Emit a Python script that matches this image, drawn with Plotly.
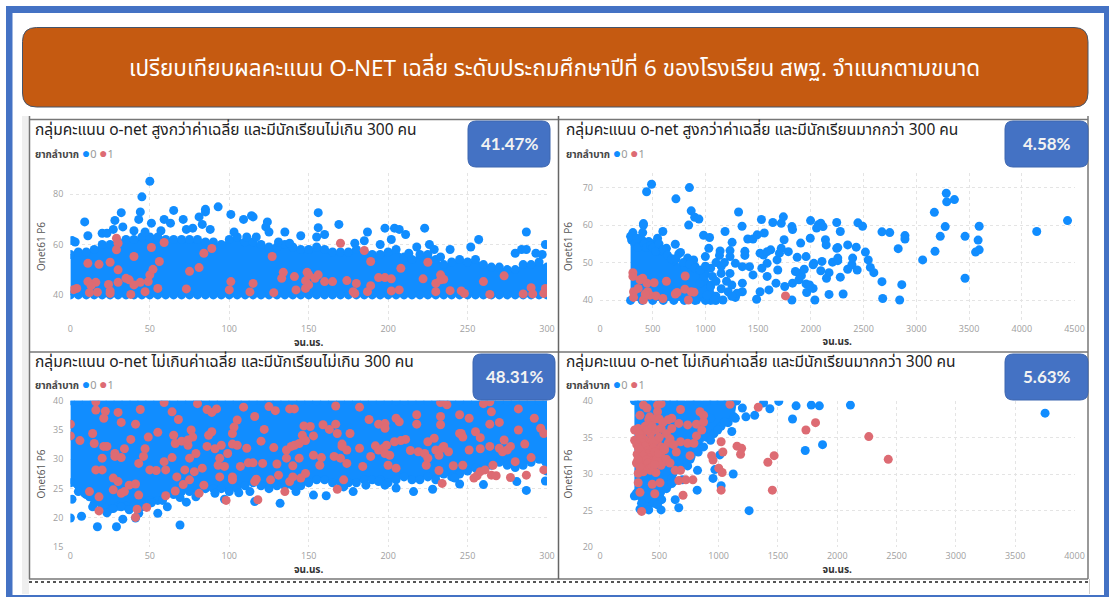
import plotly.graph_objects as go

W, H = 1109, 597
BLUE = "#118DFF"
RED = "#DD6B73"
BADGE = "#4472C4"
HEAD = "#C55A11"
THAI = "'Noto Sans Thai', 'Noto Sans', 'Open Sans', sans-serif"

HEADER = "เปรียบเทียบผลคะแนน O-NET เฉลี่ย ระดับประถมศึกษาปีที่ 6 ของโรงเรียน สพฐ. จำแนกตามขนาด"
TITLES = ["กลุ่มคะแนน o-net สูงกว่าค่าเฉลี่ย และมีนักเรียนไม่เกิน 300 คน",
          "กลุ่มคะแนน o-net สูงกว่าค่าเฉลี่ย และมีนักเรียนมากกว่า 300 คน",
          "กลุ่มคะแนน o-net ไม่เกินค่าเฉลี่ย และมีนักเรียนไม่เกิน 300 คน",
          "กลุ่มคะแนน o-net ไม่เกินค่าเฉลี่ย และมีนักเรียนมากกว่า 300 คน"]
BADGES = ["41.47%", "4.58%", "48.31%", "5.63%"]
LEGEND_NAME = "ยากลำบาก"
X_TITLE = "จน.นร."
Y_TITLE = "Onet61 P6"

# Dense bands of overlapping schools: outline (x, edge of the mass)
P1_MASS_X = [0, 5, 10, 15, 20, 25, 30, 35, 40, 45, 50, 55, 60, 65, 70, 75, 80, 85, 90, 95, 100, 105, 110, 115, 120, 125, 130, 135, 140, 145, 150, 155, 160, 165, 170, 175, 180, 185, 190, 195, 200, 205, 210, 215, 220, 225, 230, 235, 240, 245, 250, 255, 260, 265, 270, 275, 280, 285, 290, 295, 300]
P1_MASS_TOP = [56, 57, 57, 58, 60, 60, 61, 62, 62, 63, 63, 63, 62, 62, 62, 62, 62, 61, 61, 60, 62, 63, 61, 61, 60, 59, 59, 60, 59, 58, 58, 59, 58, 57, 57, 57, 58, 57, 56, 56, 57, 58, 55, 54, 56, 56, 54, 52, 53, 54, 53, 54, 52, 51, 51, 50, 50, 52, 52, 53, 51]
P2_MASS_X = [290, 400, 500, 600, 700, 800, 900, 1000, 1050, 1100]
P2_MASS_TOP = [57, 56, 55, 53, 50.5, 49, 49, 47, 44, 41]
P3_MASS_X = [0, 5, 10, 15, 20, 25, 30, 35, 40, 45, 50, 55, 60, 65, 70, 75, 80, 85, 90, 95, 100, 105, 110, 115, 120, 125, 130, 135, 140, 145, 150, 155, 160, 165, 170, 175, 180, 185, 190, 195, 200, 205, 210, 215, 220, 225, 230, 235, 240, 245, 250, 255, 260, 265, 270, 275, 280, 285, 290, 295, 300]
P3_MASS_BOTTOM = [26, 24.5, 24, 22.5, 22, 21.5, 22, 22, 22, 22.5, 23, 23, 24, 24, 24.5, 24.5, 24.5, 25, 25, 25, 24.5, 25, 25.5, 26, 25.5, 25, 25.5, 25.5, 25.5, 25.5, 26, 26.5, 26.5, 26, 26, 26, 26, 26.5, 26.5, 26.5, 26, 26.5, 27, 26.5, 26.5, 27, 26.5, 27.5, 27, 27.5, 28, 28.5, 28.5, 29, 29.5, 29, 29, 29, 29.5, 30, 28]
P4_MASS_X = [290, 350, 400, 450, 520, 560, 620, 680, 760, 820, 900, 960, 1020, 1080, 1130, 1150]
P4_MASS_BOTTOM = [27, 26, 25.5, 26, 26.5, 28, 29, 31, 32, 33.5, 35, 35.5, 36.5, 37, 37.8, 40]

P1_BLUE = [(50,85.2),(45,79),(44,73),(32,72.7),(9,69),(28,69.6),(43,70),(51,68.5),(33,67),(65,73.6),(59,70),(63,68.5),(71,70),(81,71),(85,74),(85,73),(93,75),(101,72),(109,70),(114,71.5),(115,71),(124,69),(123,67),(125,65),(135,65),(145,63.5),(156,72.7),(156,66.7),(169,68),(160,64),(155,63),(187,65),(198,66.5),(204,66.5),(207,66),(211,64),(202,62),(223,66.5),(257,62),(252,59),(287,65),(299,60),(239,58),(280,56.5),(284,58),(287,58),(293,56.5),(297,56),(226,60),(218,59),(213,56.5),(195,60),(179,60.5),(185,61.5),(1,61.6),(3,61),(11,63.5),(20,64.5),(23,64.5),(27,66),(40,65.5),(47,65),(57,65.5),(73,66),(77,66.5),(83,68),(88,66),(103,65),(111,63),(117,63),(131,61),(138,60.5),(229,58),(233,55)]
P1_RED = [(2,42),(4,42.5),(11,52.5),(18,52.1),(25,52.9),(11,45.2),(16,44.9),(13,43.6),(12,40.8),(17,41),(24,44.1),(25,41.5),(25,40.5),(29,62.5),(30,60.5),(29,57.9),(30,49.9),(30,44.9),(35,46.5),(37,45.9),(38,40.1),(40,55.2),(40,43.9),(44,44.9),(47,41.2),(49,45.2),(50,47.9),(52,50.1),(51,58.8),(56,53.2),(55,42.5),(59,60.8),(73,42.3),(75,49.3),(81,50.8),(84,56.5),(89,58.4),(100,41.9),(101,45.2),(113,41.1),(115,44.5),(127,55.2),(128,40.8),(134,48.9),(133,46.5),(141,47.2),(142,41.9),(149,48.9),(150,47.9),(148,45.5),(148,42.5),(150,43.9),(154,46.5),(156,47.9),(160,45.2),(165,45.2),(174,45.6),(170,60.5),(180,44.5),(178,41.2),(179,40.5),(185,57.6),(189,53.2),(189,43.6),(187,41.2),(194,46.8),(198,46.8),(202,46.3),(202,41.5),(207,41.9),(208,50.5),(222,46.3),(225,52.9),(230,41.2),(230,44.5),(233,47.9),(233,45.9),(235,46.1),(239,41.6),(246,41.5),(248,40.5),(260,45.2),(264,40.1),(273,47.5),(285,40.3),(290,42.8),(291,40.3),(299,42.5),(298,40.5)]

P2_BLUE = [(489,70.9),(442,68.9),(848,70),(720,67),(865,63.8),(898,62.1),(938,61.6),(841,60),(412,60.4),(412,60),(312,58),(312,57),(405,58),(596,58.3),(546,56.5),(462,55.6),(714,54.9),(630,53.8),(764,52.7),(747,52.3),(982,57.3),(1039,56.7),(1032,53.8),(999,51.6),(888,50.7),(831,51.2),(1186,58.3),(1253,55.4),(1314,63.5),(1347,59.7),(1139,53.1),(1233,53.2),(1133,51.9),(1233,51.6),(1374,53),(1374,51.9),(1401,56.3),(1451,56.3),(1491,57.4),(1558,57.9),(1531,61.5),(1639,60.7),(1719,60.5),(1739,62.2),(1746,56.1),(1820,59.6),(1826,58.8),(1903,55.2),(1997,61.2),(1994,56.5),(2071,60.1),(2094,60.5),(2115,59.6),(2054,59.2),(2138,56.1),(2145,54.7),(2245,60.7),(2279,58.3),(2245,53.8),(2255,54),(2446,60.6),(2490,59.7),(2349,54.7),(2430,54.1),(2517,52.8),(2544,50.7),(2564,48.7),(2597,47.3),(2674,58.2),(2748,58),(2828,53.7),(2892,57.2),(2892,56.3),(3060,50.7),(2674,44.9),(2681,40.4),(2842,40),(2862,44.1),(3177,53),(3171,63.4),(3227,57),(3274,59.6),(3284,68.5),(3288,66.2),(3361,66.8),(3462,57),(3462,45.8),(3562,52.8),(3596,53.4),(3586,56),(3596,59.7),(4142,58.3),(4434,61.2),(2306,41.6),(2172,41.5),(2038,40),(1820,40),(1960,42),(2021,43.1),(1954,44.3),(1987,44),(2148,45.8),(2279,46.1),(2172,47.3),(2094,47.8),(2105,50.3),(2021,49.4),(1954,51.6),(2028,49.8),(2205,50.1),(2255,50.5),(2255,51.2),(2349,48.2),(2389,49.4),(2396,51.2),(2439,48),(1887,47.1),(1910,46.5),(1937,48.2),(1853,47.6),(1870,51.4),(1786,52.9),(1719,53.8),(1702,52.5),(1679,50.7),(1686,48),(1585,49.8),(1551,52),(1518,52.5),(1619,53.4),(1585,52.9),(1535,48.5),(1585,46.3),(1669,44.5),(1752,43.6),(1826,44.5),(1887,45.4),(1602,42.7),(1518,42.2),(1485,40.2),(1350,48.9),(1418,48.9),(1451,46.7),(1350,44.5),(1350,42.2),(1284,40.7),(1300,41.8),(1166,40),(1216,42.2),(1149,47.1),(1233,47.1),(1284,49.8),(1049,48.5),(1066,46.3),(1049,43.6),(1015,41.3),(1082,40),(915,40),(948,44.5),(982,46.3),
           (300,56),(330,55),(350,56.5),(360,54),(420,55),(440,54),(480,54.5),(500,54),(530,53),(560,55),(600,53.5),(640,52),(680,51),(720,51),(790,50),(850,49.5),(900,48.5),(950,48),(1000,49),(1100,50),(1150,49),(1100,45),(1200,45),(1150,43),(1250,44),(1250,41),(1180,50)]
P2_RED = [(312,47.3),(312,46.3),(318,42.2),(318,40.7),(362,43.1),(379,45.4),(405,45.8),(412,40),(446,44.5),(513,44.6),(472,41.3),(452,42.2),(429,41.6),(530,41.1),(596,40.4),(630,45),(714,41.6),(731,42),(808,46.4),(805,42.9),(865,42.2),(891,42.1),(838,40),(1759,41.1)]

P3_BLUE = [(0,20),(7,20.3),(17,18.5),(29,18.5),(33,19.8),(41,20),(69,18.8),(55,20.8),(61,21.9),(58,23),(69,23.5),(73,22.7),(79,23.6),(97,23.2),(106,24.3),(113,24.5),(116,22.8),(132,22.5),(153,23.9),(161,23.8),(178,24.5),(186,25.6),(205,25.1),(216,24.5),(228,24.9),(245,25.8),(260,25.7),(287,24.7),(281,26.2),(280,28.6),(299,26.3),(1,23.2),(9,24.2),(14,21.9),(21,22.2),(23,20.9),(32,21.9),(43,20.8),(51,22.6),(45,21.9),(37,21.4),(20,23.1),(12,23.6),(27,21.6),(198,25.6),(242,26.8),(257,27.9),(194,26.2),(172,25.3),(142,24.5),(91,24.2)]
P3_RED = [(16,39.8),(16,38.4),(22,38.2),(21,37),(30,38),(32,36.3),(44,38.5),(41,36),(59,39.7),(64,38.1),(68,36.8),(80,39.5),(86,38.5),(89,38),(92,38.6),(109,38.9),(105,36.7),(103,35.5),(116,37.3),(125,39),(129,38.3),(138,38.6),(141,38.6),(122,35.1),(167,39.1),(182,38.9),(188,36.8),(159,35.9),(167,36),(163,35.1),(168,34.4),(151,35.6),(147,35.7),(153,34),(194,36),(198,36.1),(198,35.3),(205,37),(207,36.4),(218,37.6),(218,36),(233,37.3),(233,39.7),(237,39.3),(245,37.6),(251,37),(265,38.1),(264,36),(270,36.3),(282,38.6),(282,35),(292,37),(296,35.3),(298,34.4),(260,39.5),(264,39.8),(233,35.9),(245,34.4),(255,34.7),(258,33.7),
          (0,36),(0,34),(6,33.2),(14,34.4),(15,32.7),(21,32.2),(23,32.2),(20,30.2),(16,28.2),(20,28.2),(28,31),(28,30.5),(32,30.3),(34,31.8),(38,33.4),(49,33.8),(55,34.6),(47,31.8),(46,30.5),(43,29.3),(50,28.2),(54,28.1),(59,29.6),(60,28.2),(65,34.1),(66,32.7),(64,30.3),(70,33.1),(74,32.4),(75,30.2),(76,35),(77,33.8),(74,33.3),(79,31),(87,34.1),(89,34.7),(86,32.2),(91,31.8),(95,32.4),(94,30.2),(93,29),(97,28.8),(99,31),(102,34.4),(102,32.6),(105,32.4),(111,31.9),(112,29.4),(115,29.4),(107,28.8),(120,33.1),(121,29.3),(128,32),(130,29.2),(136,31.6),(139,32.2),(141,32.4),(144,32.7),(147,33.3),(146,34.1),(148,33.2),(136,30.2),(144,30.2),(140,28.9),(153,30.7),(158,30.3),(157,29),(166,30.5),(170,30.2),(174,29.3),(171,32.6),(171,32.2),(174,31.6),(176,34.4),(182,31.9),(184,28.8),(189,30.5),(192,32.3),(194,31.6),(197,31.9),(199,32.4),(198,31),(201,30.7),(200,29),(204,33),(208,33.2),(211,33.4),(205,28.5),(214,31.5),(219,31.3),(223,31),(225,30.2),(225,33),(224,29),(229,33.6),(230,31.6),(234,31.9),(235,32.2),(232,30.7),(238,31.3),(241,28.9),(232,28.1),(246,34.4),(247,33.8),(251,31.6),(258,31.8),(264,32.2),(266,29),(270,31.9),(273,33.3),(275,31.6),(277,32.2),(272,31.3),(280,29.6),(286,32.6),(290,30.3),
          (12,24.5),(18,23.6),(18,21.2),(27,26.8),(30,26.2),(27,24.8),(32,24.2),(34,24.5),(37,25.6),(41,25.8),(43,23.9),(42,21.5),(48,21.8),(41,20.1),(60,23.8),(66,24.6),(67,27),(71,25.7),(72,28.2),(75,26.5),(81,24.2),(84,25.6),(78,27.9),(83,28.5),(94,27),(102,27),(102,26.5),(98,23),(116,26.2),(117,26.6),(118,23.1),(126,26.5),(131,27.3),(135,24.5),(138,26.2),(140,27),(145,26.8),(148,27.6),(168,24.9),(172,26.5),(234,25.9),(254,26.8),(256,27.2),(258,27.9),(261,28.2),(265,27.3),(268,27.2),(277,26.9),(287,27.3),(298,28.2),(247,29)]

P4_BLUE = [(3752,38.3),(2111,39.4),(1849,39.3),(1781,39.4),(1653,39.3),(1507,39.9),(1379,39.7),(1432,38.9),(1623,37.5),(1304,38),(1200,39),(1230,37.8),(1111,35.8),(1876,34),(1730,33.2),(1123,30),(1010,32.6),(1021,28.4),(953,29.4),(968,30.6),(822,30.5),(739,31.1),(819,27.8),(664,25.4),(634,26.5),(1257,25),(605,29.4),(575,28.5),(828,33),(873,33.7),(932,34.6),(992,36),(932,37.6),(1051,37.1),(1141,37.6),(515,25.1),(337,25.2),(411,25.1),(485,25.8),(605,28.7),(307,27.4),(694,29.2),(664,31.9),(768,32.4),(813,33.3)]
P4_RED = [(2430,32),(2266,35.1),(1817,37),(1736,36),(1468,32.5),(1415,31.6),(1453,27.8),(1334,39.1),(1096,39.5),(1021,34.4),(1036,33),(941,32.5),(953,31.9),(1001,30.8),(1030,30.2),(1021,27.8),(1155,33.8),(1194,33.5),(1185,32.7),(759,32.5),(700,27.1),(679,30.5),(664,29.1),(724,29.2),(783,29.2),(351,24.9),(337,27.5),(462,27.3),(441,28.6),(506,28.8),(322,28.8),(634,30.5),(643,33),(679,34.4),(739,34.2),(792,34.2),(813,35.2),(739,36.7),(813,36.8),(843,38.5),(873,38),(873,37.1),(858,36),(679,38.8),(605,37.6),(575,37.4),(664,36.9),(605,36.2),(515,36.2),(485,39.4),(515,39.6),(366,39.4),(396,39),(485,38.5),(337,38),(411,37.4),(322,36.2),(366,36),(426,35.5),(485,34.6),(337,34.6),(411,34),(337,33.3),(426,33.3),(515,33.7),(575,34.2),(313,32.7),(381,32.4),(456,32.4),(515,32.4),(307,31.5),(366,31.2),(426,31.5),(545,31.7),(366,30.3),(426,30.5),(471,30.2),(515,31.2),(337,34),(381,34.6),(441,34.6),(351,35.3),(396,33.3),(351,32.1),(396,31),(292,36),(292,34.6),(485,33.3),(456,34.4),(545,33.3),(322,30.1),
          (330,35.5),(345,34.8),(360,34.2),(375,33.8),(390,33.1),(405,32.8),(420,32.2),(435,31.8),(450,33.5),(465,33),(480,32),(495,32.8),(345,33),(360,32.5),(375,31.5),(390,31.9),(405,31.5),(420,30.8),(440,31),(460,31.3),(350,30.8),(335,31),(320,32),(310,34),(325,33.5),(380,36.5),(400,36),(420,37.8),(460,37.5),(500,37.5),(530,37),(560,35.5),(590,34.8),(620,34),(540,33.5),(560,32),(590,31.5),(470,36),(440,36.5),(500,35)]


def px(x):
    return x / W


def py(y):
    return 1 - y / H


def round_rect(x0, y0, x1, y1, r):
    X0, X1, Xa, Xb = px(x0), px(x1), px(x0 + r), px(x1 - r)
    Y0, Y1, Ya, Yb = py(y0), py(y1), py(y0 + r), py(y1 - r)
    return (f"M {Xa} {Y0} L {Xb} {Y0} Q {X1} {Y0} {X1} {Ya} L {X1} {Yb} Q {X1} {Y1} {Xb} {Y1} "
            f"L {Xa} {Y1} Q {X0} {Y1} {X0} {Yb} L {X0} {Ya} Q {X0} {Y0} {Xa} {Y0} Z")


fig = go.Figure()

# (x0, x1, y_top, y_bottom, x_range, y_range, x_dtick, y_dtick, y_title_standoff)
PANELS = [
    (70.4, 547, 173, 320, [0, 300], [29.9, 88.5], 50, 20, 5),
    (600, 1074.5, 173, 320, [0, 4500], [34.67, 73.9], 500, 10, 8),
    (70.4, 547, 400.7, 547.3, [0, 300], [15, 40], 50, 5, 5),
    (600, 1074.5, 400.7, 547.3, [0, 4000], [20, 40], 500, 5, 8),
]

MASSES = [
    (P1_MASS_X + P1_MASS_X[::-1], P1_MASS_TOP + [39.9] * len(P1_MASS_X)),
    (P2_MASS_X + P2_MASS_X[::-1], P2_MASS_TOP + [39.9] * len(P2_MASS_X)),
    (P3_MASS_X + P3_MASS_X[::-1], P3_MASS_BOTTOM + [40] * len(P3_MASS_X)),
    (P4_MASS_X + P4_MASS_X[::-1], P4_MASS_BOTTOM + [40] * len(P4_MASS_X)),
]
BLUES = [P1_BLUE, P2_BLUE, P3_BLUE, P4_BLUE]
REDS = [P1_RED, P2_RED, P3_RED, P4_RED]
MARK = 9

layout = {}
annotations = []
shapes = []

AX = dict(showline=False, zeroline=False, showgrid=True, griddash="dot", gridcolor="#E4E4E4", gridwidth=1,
          tickfont=dict(family="'Open Sans', sans-serif", size=9, color="#A0A0A0"), ticks="", automargin=False)

for i, (x0, x1, yt, yb, xr, yr, xd, yd, ysoff) in enumerate(PANELS):
    n = "" if i == 0 else str(i + 1)
    xa, ya = f"x{n}", f"y{n}"
    layout[f"xaxis{n}"] = dict(AX, domain=[px(x0), px(x1)], range=xr, dtick=xd, anchor=ya, tick0=0, ticklabelstandoff=2,
                               title=dict(text=f"<b>{X_TITLE}</b>", standoff=3,
                                          font=dict(family=THAI, size=10, color="#333333")))
    layout[f"yaxis{n}"] = dict(AX, domain=[py(yb), py(yt)], range=yr, dtick=yd, anchor=xa, tick0=0, ticklabelstandoff=6,
                               title=dict(text=Y_TITLE, standoff=ysoff,
                                          font=dict(family="'Open Sans', sans-serif", size=10, color="#555555")))
    mx, my = MASSES[i]
    fig.add_trace(go.Scatter(x=mx, y=my, mode="lines+markers", fill="toself", fillcolor=BLUE,
                             marker=dict(color=BLUE, size=MARK), line=dict(color=BLUE, width=1),
                             xaxis=xa, yaxis=ya, showlegend=False, hoverinfo="skip"))
    bx, by = zip(*BLUES[i])
    fig.add_trace(go.Scatter(x=bx, y=by, mode="markers", marker=dict(color=BLUE, size=MARK), name="0",
                             xaxis=xa, yaxis=ya, showlegend=False))
    rx, ry = zip(*REDS[i])
    fig.add_trace(go.Scatter(x=rx, y=ry, mode="markers", marker=dict(color=RED, size=MARK), name="1",
                             xaxis=xa, yaxis=ya, showlegend=False))


def rect(x0, y0, x1, y1, color, layer="below"):
    shapes.append(dict(type="rect", xref="paper", yref="paper", x0=px(x0), x1=px(x1), y0=py(y1), y1=py(y0),
                       fillcolor=color, line=dict(width=0), layer=layer))


def hline(x0, x1, y, color, width, dash="solid"):
    shapes.append(dict(type="line", xref="paper", yref="paper", x0=px(x0), x1=px(x1), y0=py(y), y1=py(y),
                       line=dict(color=color, width=width, dash=dash), layer="above"))


def vline(x, y0, y1, color, width):
    shapes.append(dict(type="line", xref="paper", yref="paper", x0=px(x), x1=px(x), y0=py(y0), y1=py(y1),
                       line=dict(color=color, width=width), layer="above"))


rect(6, 6, 1109, 13, BADGE)
rect(6, 6, 12.5, 597, BADGE)
rect(1104, 6, 1109, 597, BADGE)
rect(6, 595, 1109, 597, BADGE)
rect(22, 116, 29, 594, "#EFEFEF")
hline(29, 1088, 119.5, "#777777", 1.5)
hline(29, 1088, 352, "#777777", 1.5)
hline(29, 1088, 579, "#777777", 1.5)
hline(29, 1088, 582, "#555555", 2, "dot")
vline(29.5, 116, 579, "#777777", 1.5)
vline(558.5, 116, 579, "#666666", 1.5)
vline(1088, 116, 579, "#777777", 1.5)
vline(1089.5, 579, 594, "#CCCCCC", 1)

shapes.append(dict(type="path", path=round_rect(22.5, 27.5, 1088, 107, 14), xref="paper", yref="paper",
                   fillcolor=HEAD, line=dict(color="#44546A", width=1), layer="above"))
annotations.append(dict(text=HEADER, x=px(554), y=py(69), xref="paper", yref="paper", showarrow=False,
                        xanchor="center", yanchor="middle", font=dict(family=THAI, size=22.5, color="white")))

BADGE_BOXES = [(468, 121, 550, 167), (1005, 121, 1088, 167), (473, 354, 555, 400), (1005, 354, 1088, 400)]
TITLE_POS = [(33, 130), (564, 130), (33, 362), (564, 362)]
LEGEND_POS = [(33, 153), (564, 153), (33, 384), (564, 384)]
for i in range(4):
    a, b, c, d = BADGE_BOXES[i]
    shapes.append(dict(type="path", path=round_rect(a, b, c, d, 8), xref="paper", yref="paper",
                       fillcolor=BADGE, line=dict(color="#3D66B0", width=1), layer="above"))
    annotations.append(dict(text=f"<b>{BADGES[i]}</b>", x=px((a + c) / 2), y=py((b + d) / 2 - 1), xref="paper", yref="paper",
                            showarrow=False, xanchor="center", yanchor="middle",
                            font=dict(family="Lato, 'Open Sans', sans-serif", size=17, color="#F2F2F2")))
    annotations.append(dict(text=TITLES[i], x=px(TITLE_POS[i][0]), y=py(TITLE_POS[i][1]), xref="paper", yref="paper",
                            xanchor="left", yanchor="middle", showarrow=False,
                            font=dict(family=THAI, size=15.5, color="#222222")))
    annotations.append(dict(text=(f"<b>{LEGEND_NAME}</b> <span style='color:{BLUE};font-size:14px'>●</span>"
                                  f"<span style='color:#999999;font-size:11px'>0</span> <span style='color:{RED};font-size:14px'>●</span>"
                                  f"<span style='color:#999999;font-size:11px'>1</span>"),
                            x=px(LEGEND_POS[i][0]), y=py(LEGEND_POS[i][1]), xref="paper", yref="paper",
                            xanchor="left", yanchor="middle", showarrow=False,
                            font=dict(family=THAI, size=10, color="#444444")))

fig.update_layout(width=W, height=H, margin=dict(l=0, r=0, t=0, b=0), paper_bgcolor="white", plot_bgcolor="white",
                  showlegend=False, shapes=shapes, annotations=annotations, **layout)
fig.write_html("out.html", config=dict(displayModeBar=False),
               post_script="document.body.style.margin='0';document.body.style.overflow='hidden';")
